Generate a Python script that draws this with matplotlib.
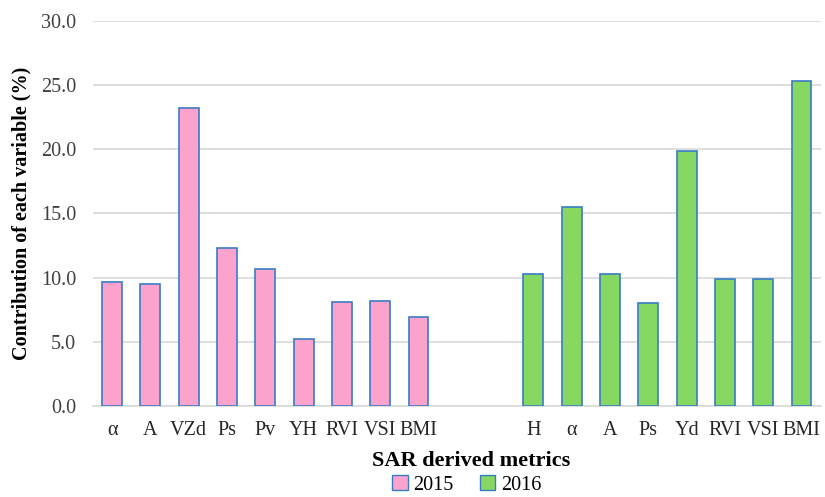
import matplotlib
matplotlib.use("Agg")
import matplotlib.pyplot as plt
from matplotlib.patches import Patch

labels_2015 = ["α", "A", "VZd", "Ps", "Pv", "YH", "RVI", "VSI", "BMI"]
values_2015 = [9.7, 9.5, 23.2, 12.3, 10.7, 5.2, 8.1, 8.2, 6.9]
labels_2016 = ["H", "α", "A", "Ps", "Yd", "RVI", "VSI", "BMI"]
values_2016 = [10.3, 15.5, 10.3, 8.0, 19.9, 9.9, 9.9, 25.3]
yticks = [0, 5, 10, 15, 20, 25, 30]

plt.rcParams['font.family'] = ['Liberation Serif', 'DejaVu Serif']

fig = plt.figure(figsize=(8.25, 4.97), dpi=100)
ax = fig.add_axes([0.1127, 0.183, 0.882, 0.775])

gap = 2
x15 = list(range(len(labels_2015)))
x16 = [len(labels_2015) + gap + i for i in range(len(labels_2016))]

pink = "#FBA3CD"
green = "#86D862"
edge = "#3A7CC4"
w = 0.52
ax.bar(x15, values_2015, width=w, color=pink, edgecolor=edge, linewidth=1.2, zorder=3)
ax.bar(x16, values_2016, width=w, color=green, edgecolor=edge, linewidth=1.2, zorder=3)

ax.set_xlim(-0.5, x16[-1] + 0.5)
ax.set_ylim(0, 30)
ax.set_yticks(yticks)
ax.set_yticklabels([f"{v:.1f}" for v in yticks], fontsize=14.5, color="#404040")
ax.set_xticks(x15 + x16)
ax.set_xticklabels(labels_2015 + labels_2016, fontsize=14.5, color="#262626")
ax.tick_params(axis='both', length=0)
ax.tick_params(axis='x', pad=11)
ax.tick_params(axis='y', pad=12)
ax.yaxis.grid(True, color="#D9D9D9", linewidth=1.2, zorder=0)
for s in ["top", "right", "left"]:
    ax.spines[s].set_visible(False)
ax.spines["bottom"].set_color("#D9D9D9")
ax.spines["bottom"].set_linewidth(1.2)

ax.set_ylabel("Contribution of each variable (%)", fontsize=14.5, fontweight="bold")
ax.yaxis.set_label_coords(-0.084, 0.5)
ax.set_xlabel("SAR derived metrics", fontsize=16, fontweight="bold")
ax.xaxis.set_label_coords(0.519, -0.118)

handles = [Patch(facecolor=pink, edgecolor=edge, label="2015"),
           Patch(facecolor=green, edgecolor=edge, label="2016")]
fig.legend(handles=handles, loc="center", bbox_to_anchor=(0.566, 0.024), ncol=2,
           frameon=False, fontsize=14.5, handlelength=0.75, handleheight=0.75,
           handletextpad=0.3, columnspacing=1.3, borderpad=0)

fig.savefig("out.png", dpi=100)
